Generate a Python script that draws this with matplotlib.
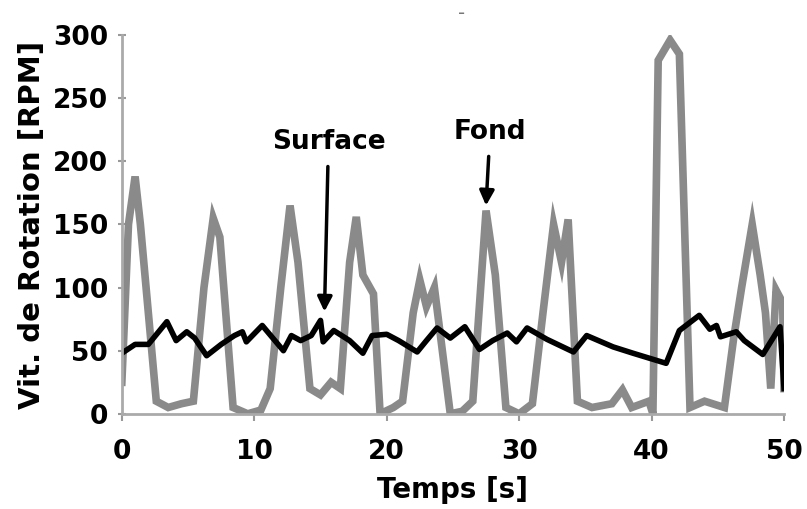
import matplotlib
matplotlib.use("Agg")
import matplotlib.pyplot as plt

# Fond (grey) - rotation speed at bottom
fond_t = [0, 0.5, 1.0, 1.4, 2.0, 2.6, 3.5, 4.5, 5.4, 6.2, 6.9, 7.4, 8.4, 9.5, 10.5,
          11.2, 12.0, 12.7, 13.3, 14.2, 15.0, 15.8, 16.5, 17.2, 17.7, 18.2, 19.0,
          19.5, 20.5, 21.2, 22.0, 22.5, 23.0, 23.6, 24.8, 25.7, 26.5, 27.5, 28.2,
          29.0, 30.0, 31.0, 31.8, 32.6, 33.2, 33.7, 34.4, 35.5, 37.0, 37.8, 38.5,
          39.8, 40.1, 40.5, 41.4, 42.1, 42.9, 44.0, 45.5, 46.2, 46.8, 47.6, 48.2,
          48.6, 49.0, 49.4, 49.9, 50.0]
fond_v = [25, 150, 188, 150, 80, 10, 5, 8, 10, 100, 155, 140, 5, 0, 3,
          20, 100, 165, 120, 20, 15, 25, 20, 120, 156, 110, 95,
          0, 5, 10, 80, 106, 85, 100, 0, 2, 10, 161, 110,
          5, 0, 8, 80, 150, 120, 154, 10, 5, 8, 19, 5,
          10, 0, 280, 296, 285, 5, 10, 5, 60, 100, 150, 110,
          80, 20, 98, 88, 20]

# Surface (black)
surf_t = [0, 1, 2, 3.4, 4.1, 4.9, 5.5, 6.4, 7.5, 8.5, 9.1, 9.4, 10.6, 11.4, 12.2,
          12.8, 13.5, 14.3, 15.0, 15.2, 16.0, 17.2, 18.2, 18.9, 20.0, 20.9, 22.3,
          23.0, 23.8, 24.8, 25.9, 27.0, 28.0, 29.1, 29.8, 30.6, 32.1, 34.1, 35.1,
          37.1, 38.6, 41.1, 42.1, 43.6, 44.4, 44.9, 45.2, 46.4, 47.0, 48.4, 49.7, 50.0]
surf_v = [48, 55, 55, 73, 58, 65, 60, 46, 55, 62, 65, 57, 70, 60, 50,
          62, 58, 62, 74, 57, 66, 58, 48, 62, 63, 58, 49,
          58, 68, 60, 69, 51, 58, 64, 57, 68, 59, 49, 62,
          53, 48, 40, 66, 78, 67, 70, 61, 65, 58, 47, 69, 20]

xticks = [0, 10, 20, 30, 40, 50]
yticks = [0, 50, 100, 150, 200, 250, 300]

fig = plt.figure(figsize=(8.07, 5.09), dpi=100)
ax = fig.add_axes([0.151, 0.187, 0.8205, 0.744])

ax.plot(fond_t, fond_v, color="#8a8a8a", lw=5.5, solid_joinstyle="miter")
ax.plot(surf_t, surf_v, color="black", lw=4)

arrow = dict(arrowstyle="-|>", color="black", lw=2.5, mutation_scale=22,
             shrinkA=6, shrinkB=0)
ax.annotate("Surface", xy=(15.3, 81), xytext=(15.6, 215), ha="center", va="center",
            fontsize=19, fontweight="bold", arrowprops=arrow)
ax.annotate("Fond", xy=(27.5, 165), xytext=(27.8, 223), ha="center", va="center",
            fontsize=19, fontweight="bold", arrowprops=arrow)

ax.set_xlim(0, 50)
ax.set_ylim(0, 300)
ax.set_xticks(xticks)
ax.set_yticks(yticks)
ax.tick_params(labelsize=19, colors="#999999", labelcolor="black", length=5, width=1.5)
ax.tick_params(axis="x", pad=13)
ax.tick_params(axis="y", direction="inout", length=6, pad=7)
for lbl in ax.get_xticklabels() + ax.get_yticklabels():
    lbl.set_fontweight("bold")

for s in ["top", "right"]:
    ax.spines[s].set_visible(False)
for s in ["left", "bottom"]:
    ax.spines[s].set_color("#aaaaaa")
    ax.spines[s].set_linewidth(2)

ax.set_xlabel("Temps [s]", fontsize=20, fontweight="bold", labelpad=8)
ax.set_ylabel("Vit. de Rotation [RPM]", fontsize=21, fontweight="bold", labelpad=5)
fig.text(462 / 807, 1 - 13 / 509, "-", fontsize=14, color="#777777",
         ha="center", va="center")

fig.savefig("out.png", dpi=100)
